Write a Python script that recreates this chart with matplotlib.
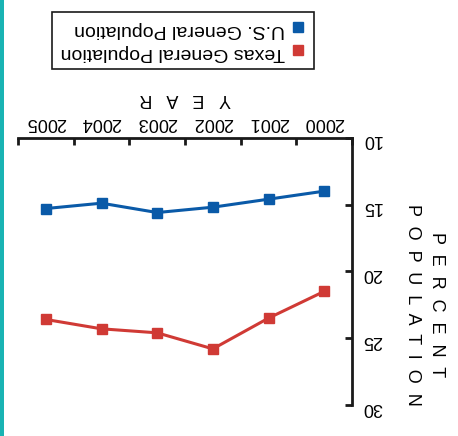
import matplotlib.pyplot as plt
from matplotlib.lines import Line2D
from matplotlib.patches import Rectangle

plt.rcParams['font.family'] = ['Liberation Sans', 'DejaVu Sans']

years = [2000, 2001, 2002, 2003, 2004, 2005]
us_pop = [14.0, 14.6, 15.2, 15.6, 14.9, 15.3]
texas_pop = [21.5, 23.5, 25.8, 24.6, 24.3, 23.6]
yticks = [10, 15, 20, 25, 30]

blue = "#0a5aa8"
red = "#d03a35"

fig = plt.figure(figsize=(4.58, 4.36), dpi=100)
ax = fig.add_axes([18 / 458, 1 - 405 / 436, 334 / 458, 267.3 / 436])

ax.plot(years, us_pop, color=blue, lw=2.2, marker="s", ms=7.5,
        label="U.S. General Population")
ax.plot(years, texas_pop, color=red, lw=2.2, marker="s", ms=7.5,
        label="Texas General Population")

# whole chart is shown rotated by 180 degrees
ax.set_xlim(2005.5, 1999.5)
ax.set_ylim(30, 10)

for side in ["left", "bottom"]:
    ax.spines[side].set_visible(False)
for side in ["right", "top"]:
    ax.spines[side].set_linewidth(2)
    ax.spines[side].set_color("#1a1a1a")

ax.xaxis.tick_top()
ax.yaxis.tick_right()
ax.set_xticks([y + 0.5 for y in [1999] + years])
ax.set_xticklabels([])
ax.set_xticks(years, minor=True)
ax.set_xticklabels([str(y) for y in years], minor=True, rotation=180, fontsize=13)
ax.tick_params(axis="x", which="major", direction="in", length=5, width=2, color="#1a1a1a")
ax.tick_params(axis="x", which="minor", length=0, pad=5)
ax.set_yticks(yticks)
ax.set_yticklabels([str(v) for v in yticks], rotation=180, fontsize=13)
ax.tick_params(axis="y", direction="in", length=5, width=2, color="#1a1a1a", pad=7)

ax.xaxis.set_label_position("top")
ax.set_xlabel("Y   E   A   R", rotation=180, fontsize=13, labelpad=8)

fig.text(0.927, 1 - 305 / 436, "P  E  R  C  E  N  T\nP  O  P  U  L  A  T  I  O  N",
         rotation=270, fontsize=13, ha="center", va="center", multialignment="center",
         linespacing=1.5)

handles = [Line2D([], [], color=blue, marker="s", ls="none", ms=7),
           Line2D([], [], color=red, marker="s", ls="none", ms=7)]
leg = fig.legend(handles, ["U.S. General Population", "Texas General Population"],
                 loc="center", bbox_to_anchor=(183 / 458, 1 - 40.5 / 436),
                 markerfirst=False, fancybox=False, edgecolor="#1a1a1a",
                 fontsize=14, handlelength=0.7, handletextpad=0.3,
                 labelspacing=0.25, borderpad=0.45, framealpha=1)
leg.get_frame().set_linewidth(1.2)
for t in leg.get_texts():
    t.set_rotation(180)

fig.add_artist(Rectangle((0, 0), 4 / 458, 1, transform=fig.transFigure,
                         color="#19b3b3", lw=0))

fig.savefig("out.png", dpi=100)
